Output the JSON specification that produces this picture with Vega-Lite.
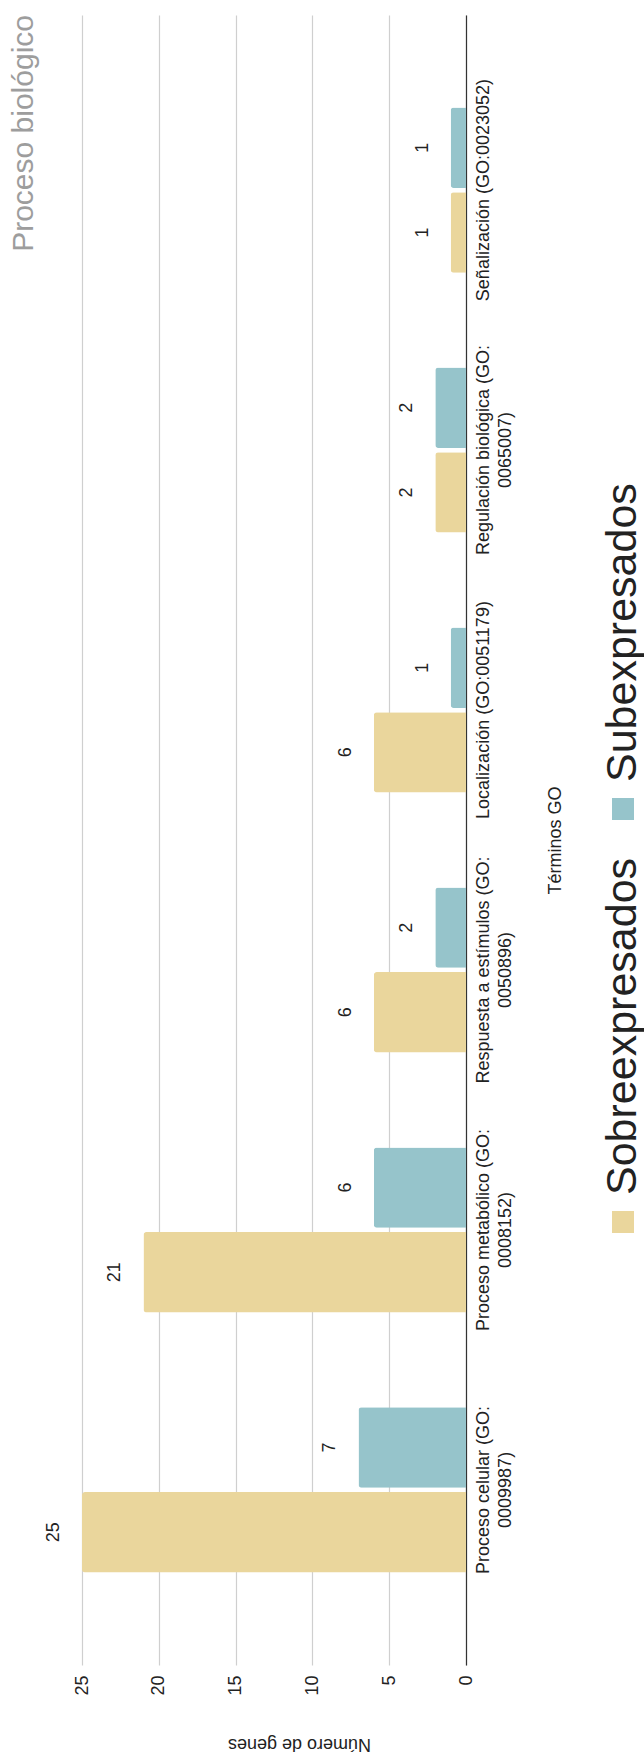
{
  "$schema": "https://vega.github.io/schema/vega-lite/v6.json",
  "width": 384,
  "height": 1650,
  "autosize": {"type": "pad"},
  "padding": {"left": 8, "top": 15, "right": 0, "bottom": 0},
  "background": "white",
  "title": {
    "text": "Proceso biológico",
    "orient": "left",
    "anchor": "end",
    "fontSize": 30,
    "fontWeight": "normal",
    "color": "#9d9d9d",
    "offset": 6
  },
  "config": {
    "font": "Liberation Sans",
    "view": {"stroke": null}
  },
  "data": {
    "values": [
      {"category": "Proceso celular (GO:\n0009987)", "series": "Sobreexpresados", "value": 25},
      {"category": "Proceso celular (GO:\n0009987)", "series": "Subexpresados", "value": 7},
      {"category": "Proceso metabólico (GO:\n0008152)", "series": "Sobreexpresados", "value": 21},
      {"category": "Proceso metabólico (GO:\n0008152)", "series": "Subexpresados", "value": 6},
      {"category": "Respuesta a estímulos (GO:\n0050896)", "series": "Sobreexpresados", "value": 6},
      {"category": "Respuesta a estímulos (GO:\n0050896)", "series": "Subexpresados", "value": 2},
      {"category": "Localización (GO:0051179)", "series": "Sobreexpresados", "value": 6},
      {"category": "Localización (GO:0051179)", "series": "Subexpresados", "value": 1},
      {"category": "Regulación biológica (GO:\n0065007)", "series": "Sobreexpresados", "value": 2},
      {"category": "Regulación biológica (GO:\n0065007)", "series": "Subexpresados", "value": 2},
      {"category": "Señalización (GO:0023052)", "series": "Sobreexpresados", "value": 1},
      {"category": "Señalización (GO:0023052)", "series": "Subexpresados", "value": 1}
    ]
  },
  "encoding": {
    "y": {
      "field": "category",
      "type": "nominal",
      "sort": [
        "Señalización (GO:0023052)",
        "Regulación biológica (GO:\n0065007)",
        "Localización (GO:0051179)",
        "Respuesta a estímulos (GO:\n0050896)",
        "Proceso metabólico (GO:\n0008152)",
        "Proceso celular (GO:\n0009987)"
      ],
      "scale": {"paddingInner": 0.365, "paddingOuter": 0.356},
      "axis": {
        "orient": "right",
        "title": "Términos GO",
        "domain": true,
        "domainColor": "#333333",
        "domainWidth": 1.2,
        "ticks": false,
        "grid": false,
        "labelAngle": 270,
        "labelAlign": "center",
        "labelBaseline": "top",
        "labelPadding": 8,
        "labelFontSize": 18,
        "labelColor": "#222222",
        "labelLimit": 500,
        "labelLineHeight": 22,
        "labelOverlap": false,
        "labelExpr": "split(datum.value, '\\n')",
        "titleAngle": 270,
        "titleX": 89,
        "titleY": 825,
        "titleAlign": "center",
        "titleBaseline": "middle",
        "titleFontSize": 18,
        "titleFontWeight": "normal",
        "titleColor": "#222222"
      }
    },
    "x": {
      "field": "value",
      "type": "quantitative",
      "scale": {"domain": [0, 25], "reverse": true, "nice": false},
      "axis": {
        "title": "Número de genes",
        "values": [0, 5, 10, 15, 20, 25],
        "grid": true,
        "gridColor": "#cfcfcf",
        "gridWidth": 1.2,
        "domain": false,
        "ticks": false,
        "labelAngle": 270,
        "labelAlign": "right",
        "labelBaseline": "middle",
        "labelPadding": 10,
        "labelFlush": false,
        "labelFontSize": 18,
        "labelColor": "#222222",
        "titleAngle": 180,
        "titleX": 217,
        "titleY": 78,
        "titleAlign": "center",
        "titleBaseline": "middle",
        "titleFontSize": 18,
        "titleFontWeight": "normal",
        "titleColor": "#222222"
      }
    },
    "yOffset": {
      "field": "series",
      "type": "nominal",
      "sort": ["Subexpresados", "Sobreexpresados"],
      "scale": {"paddingInner": 0.05}
    }
  },
  "layer": [
    {
      "mark": {"type": "bar", "cornerRadiusTopLeft": 3, "cornerRadiusBottomLeft": 3},
      "encoding": {
        "color": {
          "field": "series",
          "type": "nominal",
          "scale": {
            "domain": ["Subexpresados", "Sobreexpresados"],
            "range": ["#96C4CB", "#EAD69C"]
          },
          "legend": {
            "title": null,
            "orient": "none",
            "legendX": 530,
            "legendY": 794,
            "direction": "vertical",
            "columns": 1,
            "rowPadding": 37,
            "padding": 0,
            "symbolType": "square",
            "symbolSize": 484,
            "symbolStrokeWidth": 0,
            "labelFontSize": 43,
            "labelColor": "#222222",
            "labelLimit": 1000,
            "encode": {
              "symbols": {"update": {"x": {"value": 11}, "y": {"value": 0}}},
              "labels": {
                "update": {
                  "x": {"value": 11},
                  "y": {"value": -27},
                  "angle": {"value": 270},
                  "align": {"value": "left"},
                  "baseline": {"value": "middle"}
                }
              }
            }
          }
        }
      }
    },
    {
      "mark": {
        "type": "text",
        "angle": 270,
        "dy": -28,
        "fontSize": 18,
        "color": "#222222"
      },
      "encoding": {"text": {"field": "value", "type": "quantitative"}}
    }
  ]
}
